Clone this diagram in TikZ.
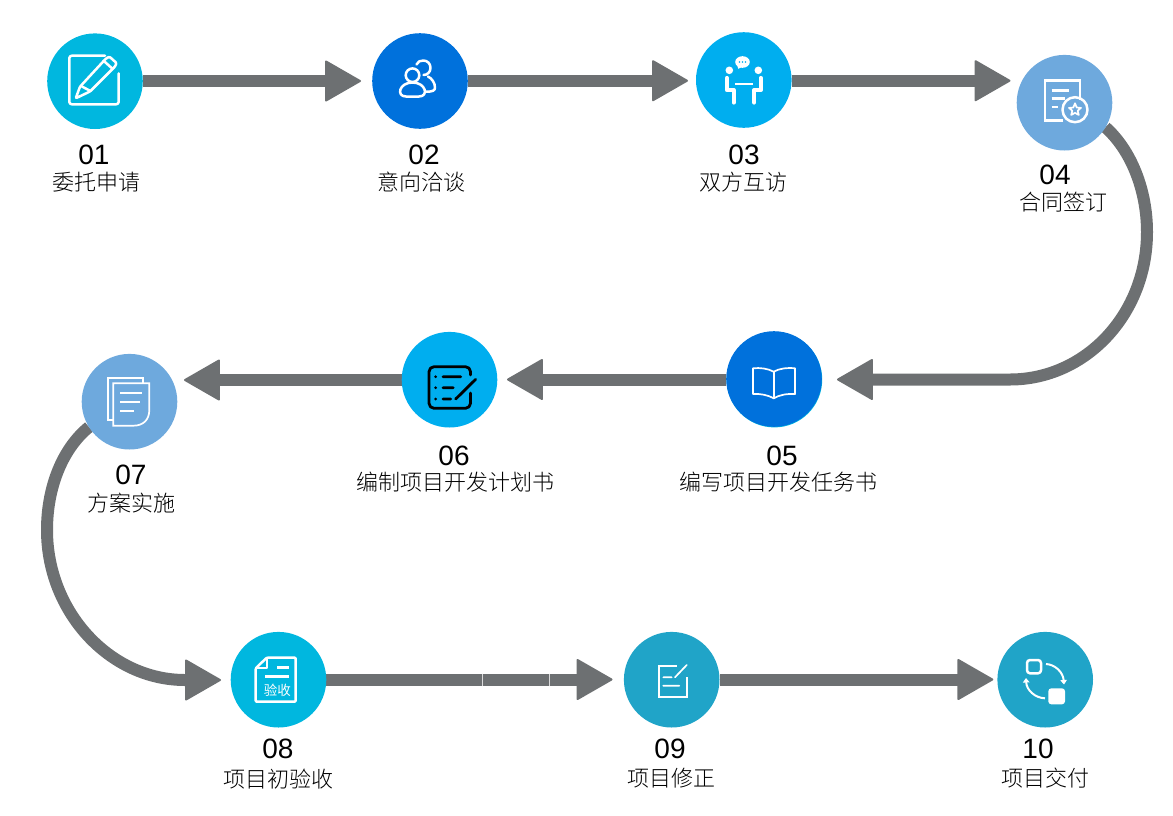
\documentclass[tikz,border=0pt]{standalone}
\usepackage{fontspec}
\setmainfont{Liberation Sans}
\newfontfamily\cjk{Noto Sans CJK SC Light}
\newfontfamily\cjkb{Noto Sans CJK SC}
\usetikzlibrary{arrows.meta,backgrounds}
\definecolor{cCyan}{HTML}{00B7DF}
\definecolor{cBlue}{HTML}{0071DC}
\definecolor{cSky}{HTML}{00AEEF}
\definecolor{cSoft}{HTML}{6EA9DD}
\definecolor{cTeal}{HTML}{20A4C8}
\definecolor{cArrow}{HTML}{6D7072}
\tikzset{
  stage/.style={circle,minimum size=95.6pt,inner sep=0pt,outer sep=0pt,fill=#1},
  numtext/.style={inner sep=0pt,font=\fontsize{28}{28}\selectfont},
  captext/.style={inner sep=0pt,font=\cjk\fontsize{22}{22}\selectfont},
  link/.style={draw=cArrow,line width=12pt,-{Triangle[length=37pt,width=42pt,line width=2pt,round]}},
  ic/.style={draw=white,line width=2.5pt,line cap=round,line join=round},
  icthin/.style={draw=white,line width=1.7pt,line cap=round,line join=round},
  icdark/.style={draw=black,line width=2.8pt,line cap=round,line join=round},
}
\begin{document}
\begin{tikzpicture}[x=1pt,y=-1pt]
\useasboundingbox (0,0) rectangle (1173,815);
% stages
\node[stage=cCyan] (n1) at (95,81.2) {};
\node[stage=cBlue] (n2) at (420,81) {};
\node[stage=cSky]  (n3) at (743.8,80) {};
\node[stage=cSoft] (n4) at (1064.5,102.7) {};
\node[circle,minimum size=95.6pt,inner sep=0pt,fill=cCyan] (n5u) at (774.4,379.6) {};
\node[stage=cBlue] (n5) at (774,379) {};
\node[stage=cSky]  (n6) at (449.5,379.7) {};
\node[stage=cSoft] (n7) at (129.5,401.7) {};
\node[stage=cCyan] (n8) at (278.5,679.7) {};
\node[stage=cTeal] (n9) at (671.7,679.7) {};
\node[stage=cTeal] (n10) at (1045.2,679.7) {};
% arrow ends
\coordinate (t2) at (361,81);
\coordinate (t3) at (688,80.7);
\coordinate (t4) at (1010.5,80.7);
\coordinate (t5) at (837,379.5);
\coordinate (t6) at (507,379.5);
\coordinate (t7) at (184,380);
\coordinate (t8) at (221,680);
\coordinate (t9) at (612.5,679.5);
\coordinate (t10) at (993.3,679.5);
\coordinate (a41) at (1147,232);
\coordinate (a42) at (1010,379.5);
\coordinate (a71) at (47,530);
\coordinate (a72) at (185,680);
\begin{scope}[on background layer]
\draw[link] (n1.east |- t2) -- (t2);
\draw[link] (n2.east |- t3) -- (t3);
\draw[link] (n3.east |- t4) -- (t4);
\draw[link] (n4.-31) .. controls (1131,150) and (1147,190) .. (a41) .. controls (1147,315) and (1085,379.5) .. (a42) -- (t5);
\draw[link] (n5.west |- t6) -- (t6);
\draw[link] (n6.west |- t7) -- (t7);
\draw[link] (n7.-148) .. controls (62,449) and (47,488) .. (a71) .. controls (47,612) and (110,680) .. (a72) -- (t8);
\draw[link] (n8.east |- t9) -- (t9);
\draw[link] (n9.east |- t10) -- (t10);
\end{scope}
\coordinate (s1a) at (482.3,673.5); \coordinate (s1b) at (482.3,685.5);
\coordinate (s2a) at (549.8,673.5); \coordinate (s2b) at (549.8,685.5);
\draw[white!75!cArrow,line width=.8pt] (s1a) -- (s1b);
\draw[white!75!cArrow,line width=.8pt] (s2a) -- (s2b);
% labels
\node[numtext] (l1) at (94,154.5) {01};     \node[captext] (c1) at (96,182) {委托申请};
\node[numtext] (l2) at (424,154.5) {02};    \node[captext] (c2) at (421,182) {意向洽谈};
\node[numtext] (l3) at (744,154.5) {03};    \node[captext] (c3) at (743,182) {双方互访};
\node[numtext] (l4) at (1055,174.5) {04};   \node[captext] (c4) at (1063,202) {合同签订};
\node[numtext] (l5) at (782,455.5) {05};    \node[captext] (c5) at (778,482) {编写项目开发任务书};
\node[numtext] (l6) at (454,455.5) {06};    \node[captext] (c6) at (455,482) {编制项目开发计划书};
\node[numtext] (l7) at (131,474.5) {07};    \node[captext] (c7) at (131,503) {方案实施};
\node[numtext] (l8) at (278,748.5) {08};    \node[captext] (c8) at (278,779) {项目初验收};
\node[numtext] (l9) at (670,748.5) {09};    \node[captext] (c9) at (671,778) {项目修正};
\node[numtext] (l10) at (1038,748.5) {10};  \node[captext] (c10) at (1045,778) {项目交付};
% icon 01
\draw[ic,rounded corners=2.5pt] (105,55.7) -- (69.3,55.7) -- (69.3,104.3) -- (118.7,104.3) -- (118.7,73.3);
\draw[ic,rounded corners=1pt] (75.7,98.3) -- (80,86.7) -- (106,58.5) -- (109.5,56.7) -- (116.5,63) -- (115,66.5) -- (90,91.5) -- cycle;
\draw[ic] (82,86.5) -- (89.5,90.5) (103.5,60.7) -- (112,68.3);
% icon 02
\draw[ic] (412.5,75.2) circle (6.8);
\draw[ic] (406,96.5) .. controls (396,96.5) and (399,82.5) .. (412.5,82.5) .. controls (426,82.5) and (429,96.5) .. (419,96.5) -- cycle;
\draw[ic] (416.5,64.5) .. controls (418,61.5) and (420,60.5) .. (423.3,60.5) .. controls (427.5,60.5) and (430.5,63.8) .. (430.5,67.8) .. controls (430.5,72) and (427.5,75) .. (423.5,75);
\draw[ic] (428,76.5) .. controls (432,78.5) and (435,83) .. (435,87.5) .. controls (435,90.5) and (433,91.7) .. (426,91.7);
% icon 03
\fill[white] (742.5,62) ellipse (7.3 and 5.8);
\fill[white] (737,64.5) -- (738.3,68.8) -- (742,67) -- cycle;
\foreach \dx in {739.5,742.5,745.5} \fill[cSky] (\dx,62) circle (.9);
\fill[white] (729.3,70.3) circle (3.8) (758.3,70.3) circle (3.8);
\draw[draw=white,line width=4.2pt,line cap=round,line join=round] (726.9,78) -- (726.9,90) -- (733.6,90) -- (733.6,102.5);
\draw[draw=white,line width=4.2pt,line cap=round,line join=round] (760.7,78) -- (760.7,90) -- (754.2,90) -- (754.2,102.5);
\draw[white,line width=2.2pt] (735,83.7) -- (752.5,83.7);
% icon 04
\draw[ic,line cap=butt,line join=miter] (1063,120.7) -- (1045,120.7) -- (1045,80.7) -- (1080,80.7) -- (1080,99.5);
\draw[ic,line cap=butt] (1051.7,90.3) -- (1069.3,90.3) (1051.7,98.7) -- (1065,98.7) (1051.7,107) -- (1058,107);
\draw[ic] (1075,109.7) circle (12.5);
\draw[icthin] (1075,103.3) -- (1076.7,107.5) -- (1081,107.9) -- (1077.7,110.7) -- (1078.8,115) -- (1075,112.8) -- (1071.2,115) -- (1072.3,110.7) -- (1069,107.9) -- (1073.3,107.5) -- cycle;
% icon 05
\draw[icthin] (773.7,371.7) .. controls (768,368.5) and (760,367.5) .. (753,368.3) -- (753,394) .. controls (760,393.5) and (768,395) .. (773.7,398.3) .. controls (779,395) and (787,393.5) .. (795,394) -- (795,368.3) .. controls (787,367.5) and (779,368.5) .. (773.7,371.7) -- cycle;
\draw[icthin] (773.7,371.7) -- (773.7,398.3);
% icon 06
\draw[icdark,rounded corners=5pt] (470.5,375) -- (470.5,366.7) -- (429,366.7) -- (429,408.3) -- (470.5,408.3) -- (470.5,393);
\fill[black] (435.7,376.7) circle (1.5) (435.7,387.7) circle (1.5) (435.7,399) circle (1.5);
\draw[icdark] (443,376.7) -- (460.7,376.7) (443,387.7) -- (453.3,387.7) (443,399) -- (450.7,399) (455.7,399) -- (475.7,379.3);
% icon 07
\draw[icthin,line cap=butt,line join=miter] (113.3,420) -- (107.7,420) -- (107.7,378.3) -- (142.7,378.3) -- (142.7,383.3);
\draw[icthin,line cap=butt,line join=miter] (113.3,383.3) -- (149.3,383.3) -- (149.3,410) .. controls (149.3,420) and (143,425.7) .. (133.3,425.7) -- (113.3,425.7) -- cycle;
\draw[icthin,line cap=butt] (120,392.7) -- (142.3,392.7) (120,402) -- (140,402) (120,411) -- (134,411);
% icon 08
\draw[ic,rounded corners=1pt] (255.7,668.3) -- (266.7,657.7) -- (295.7,657.7) -- (295.7,701.7) -- (255.7,701.7) -- cycle;
\draw[icthin] (255.7,668.3) -- (266.7,668.3) -- (266.7,657.7);
\draw[ic,line cap=butt] (277.3,667.7) -- (289,667.7) (265,676.7) -- (289,676.7);
\node[inner sep=0pt,text=white,font=\cjkb\fontsize{13.5}{13.5}\selectfont] (i8) at (277.3,690.5) {验收};
% icon 09
\draw[icthin,line cap=butt,line join=miter] (676.7,665.7) -- (659,665.7) -- (659,697.3) -- (686.7,697.3) -- (686.7,676.7);
\draw[icthin] (675,677.3) -- (686.7,665) (663.3,677.3) -- (671.7,677.3) (663.3,685.7) -- (679.3,685.7);
% icon 10
\draw[ic,rounded corners=3pt] (1027,660) rectangle (1041,673.3);
\fill[white,rounded corners=3pt] (1048.3,688.3) rectangle (1065,704.3);
\draw[draw=white,line width=2pt,-{Triangle[length=4.5pt,width=6.5pt]}] (1046,664) .. controls (1055,664.5) and (1063,672) .. (1064,684.5);
\draw[draw=white,line width=2pt,-{Triangle[length=4.5pt,width=6.5pt]}] (1045,698.3) .. controls (1035,698) and (1026.5,690) .. (1026,678);
\end{tikzpicture}
\end{document}
